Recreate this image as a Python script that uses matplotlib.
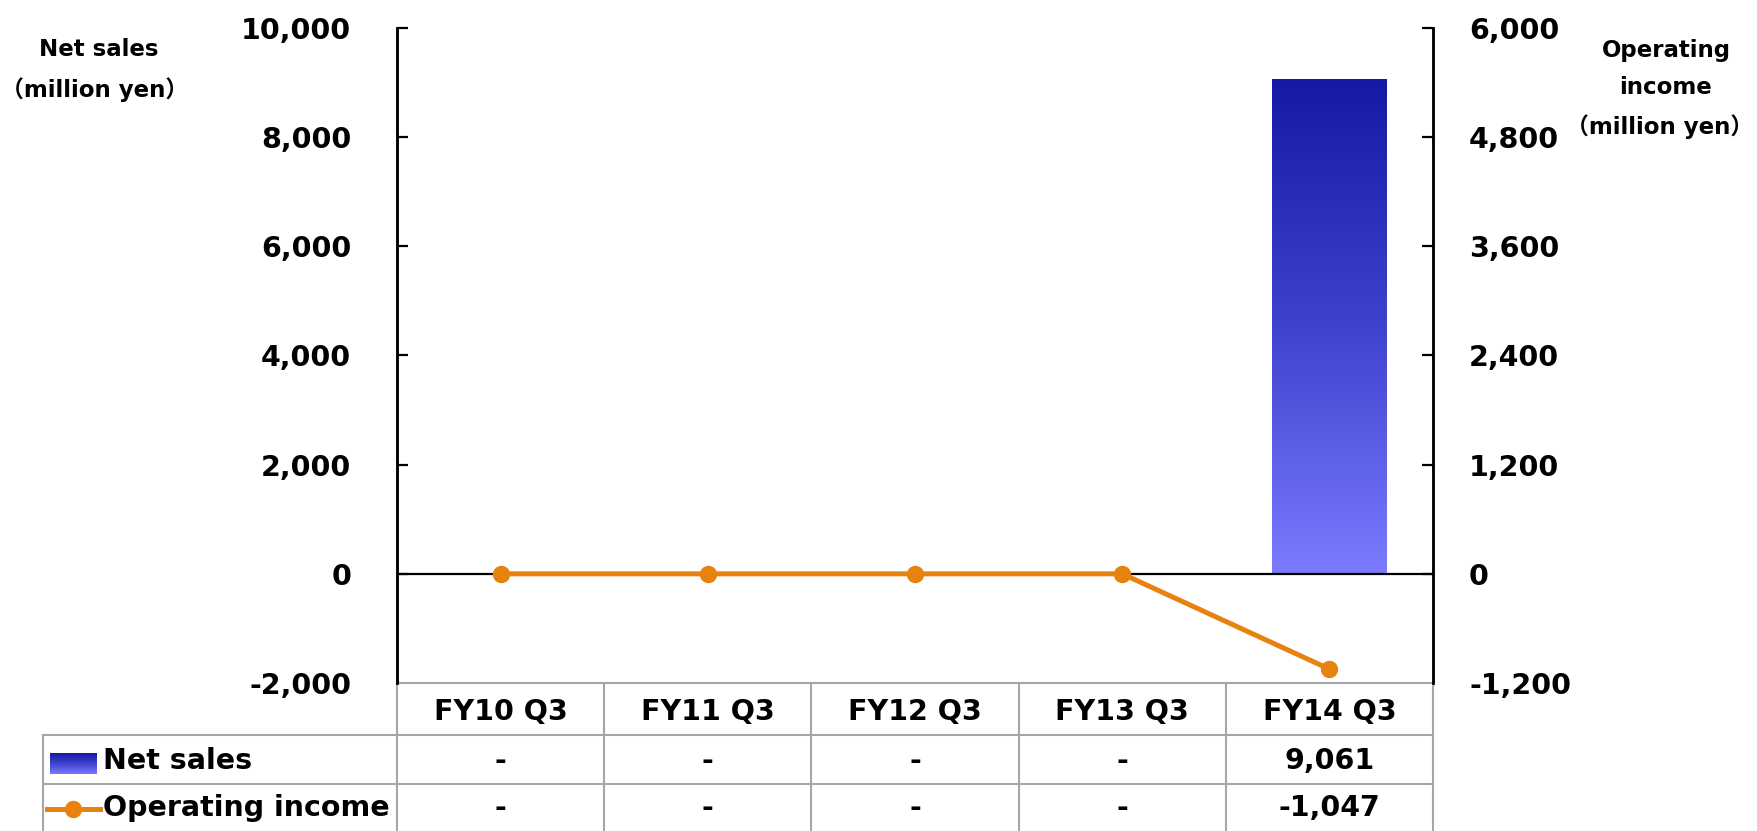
import numpy as np
import matplotlib
matplotlib.use("Agg")
import matplotlib.pyplot as plt
from matplotlib.colors import LinearSegmentedColormap

# data
quarters = ["FY10 Q3", "FY11 Q3", "FY12 Q3", "FY13 Q3", "FY14 Q3"]
net_sales = [0, 0, 0, 0, 9061]
op_income = [0, 0, 0, 0, -1047]
left_ticks = [-2000, 0, 2000, 4000, 6000, 8000, 10000]
right_ticks = [-1200, 0, 1200, 2400, 3600, 4800, 6000]

plt.rcParams['font.family'] = ['DejaVu Sans', 'Noto Sans CJK JP']
plt.rcParams['font.weight'] = 'bold'

ORANGE = "#E8820E"
GRID_GRAY = "#a6a6a6"
blues = LinearSegmentedColormap.from_list("blues", ["#7B7BFF", "#3F42CF", "#1619A6"])


def fmt(v):
    return "-" if v == 0 else f"{v:,}"


fig = plt.figure(figsize=(17.58, 8.31), dpi=100)
ax = fig.add_axes([397 / 1758, 1 - 683 / 831, 1036 / 1758, 655 / 831])
ax2 = ax.twinx()

x = np.arange(len(quarters))

# bars with vertical gradient
bars = ax.bar(x, net_sales, width=0.555, color="none", edgecolor="none", zorder=2)
grad = np.linspace(0, 1, 256).reshape(-1, 1)
for b in bars:
    if b.get_height() == 0:
        continue
    x0, y0 = b.get_x(), b.get_y()
    im = ax.imshow(grad, cmap=blues, origin="lower", aspect="auto",
                   extent=[x0, x0 + b.get_width(), y0, y0 + b.get_height()], zorder=2)
    im.set_clip_path(b)

ax.axhline(0, color="black", lw=1.6, zorder=3)

ax2.plot(x, op_income, color=ORANGE, lw=3.6, marker="o", markersize=11.5, zorder=4)

ax.set_xlim(-0.5, len(quarters) - 0.5)
ax.set_ylim(-2000, 10000)
ax2.set_ylim(-1200, 6000)
ax.set_xticks([])
ax.set_yticks(left_ticks)
ax.set_yticklabels([f"{v:,}" for v in left_ticks])
ax2.set_yticks(right_ticks)
ax2.set_yticklabels([f"{v:,}" for v in right_ticks])

ax.tick_params(axis="y", direction="in", length=8, width=1.6, pad=33, labelsize=20.5)
ax2.tick_params(axis="y", direction="in", length=8, width=1.6, pad=26, labelsize=20.5)
# no tick marks at the bottom edge
ax.yaxis.get_major_ticks()[0].tick1line.set_visible(False)
ax2.yaxis.get_major_ticks()[0].tick2line.set_visible(False)

for a in (ax, ax2):
    a.spines["top"].set_visible(False)
    a.spines["bottom"].set_visible(False)
    a.spines["left"].set_linewidth(1.8)
    a.spines["right"].set_linewidth(1.8)
    a.patch.set_visible(False)

# data table under the plot
row_y = [0, -0.0794, -0.1542, -0.23]
tab_left = -0.3417
tr = ax.get_xaxis_transform()
ax.plot([-0.5, len(quarters) - 0.5], [0, 0], transform=tr, color=GRID_GRAY, lw=1.5, clip_on=False)
for yy in row_y[1:3]:
    ax.plot([tab_left, 1], [yy, yy], transform=ax.transAxes, color=GRID_GRAY, lw=1.5, clip_on=False)
for xb in np.arange(-0.5, len(quarters)):
    ax.plot([xb, xb], [0, row_y[-1]], transform=tr, color=GRID_GRAY, lw=1.5, clip_on=False)
ax.plot([tab_left, tab_left], [row_y[1], row_y[-1]], transform=ax.transAxes,
        color=GRID_GRAY, lw=1.5, clip_on=False)

for i, q in enumerate(quarters):
    ax.text(i, -0.044, q, transform=tr, ha="center", va="center", fontsize=20.5)
    ax.text(i, -0.1195, fmt(net_sales[i]), transform=tr, ha="center", va="center", fontsize=20.5)
    ax.text(i, -0.1905, fmt(op_income[i]), transform=tr, ha="center", va="center", fontsize=20.5)

# legend keys inside the table
key = ax.imshow(grad, cmap=blues, origin="lower", aspect="auto",
                extent=[-0.3349, -0.2896, -0.1389, -0.1069], transform=ax.transAxes, zorder=3)
key.set_clip_on(False)
ax.plot([-0.3378, -0.2867], [-0.1924, -0.1924], transform=ax.transAxes, color=ORANGE,
        lw=3.6, clip_on=False)
ax.plot([-0.3123], [-0.1924], transform=ax.transAxes, color=ORANGE, marker="o",
        markersize=11.5, clip_on=False)
ax.text(-0.2838, -0.1195, "Net sales", transform=ax.transAxes, ha="left", va="center", fontsize=20.5)
ax.text(-0.2838, -0.1905, "Operating income", transform=ax.transAxes, ha="left", va="center", fontsize=20.5)

ax.set_xlim(-0.5, len(quarters) - 0.5)
ax.set_ylim(-2000, 10000)

# axis titles
fig.text(99 / 1758, 1 - 50 / 831, "Net sales", ha="center", va="center", fontsize=16.5)
fig.text(95 / 1758, 1 - 90 / 831, "（million yen）", ha="center", va="center", fontsize=16.5)
fig.text(1666 / 1758, 1 - 50 / 831, "Operating", ha="center", va="center", fontsize=16.5)
fig.text(1666 / 1758, 1 - 88 / 831, "income", ha="center", va="center", fontsize=16.5)
fig.text(1660 / 1758, 1 - 127 / 831, "（million yen）", ha="center", va="center", fontsize=16.5)

fig.savefig("out.png", dpi=100)
